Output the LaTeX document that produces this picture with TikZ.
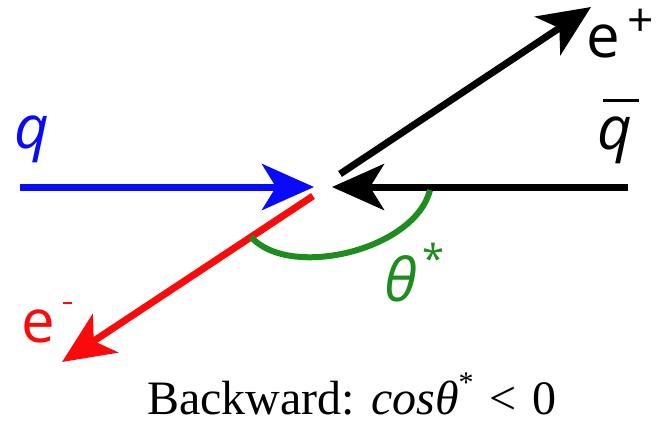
\documentclass[tikz,border=0pt]{standalone}
\usepackage{fontspec}
\setmainfont{Liberation Serif}
\newfontfamily\lblfont{Open Sans}
\usetikzlibrary{arrows.meta}
\definecolor{qblue}{RGB}{10,10,250}
\definecolor{ered}{RGB}{250,10,10}
\definecolor{tgreen}{RGB}{30,140,30}
\tikzset{
  vec/.style={line width=7pt, -{Stealth[length=52pt,width=46pt,inset=14pt]}},
  lbl/.style={inner sep=0pt, anchor=base west, font=\lblfont\fontsize{60}{60}\selectfont},
  sup/.style={inner sep=0pt, anchor=base west, font=\lblfont\fontsize{46}{46}\selectfont},
}
\begin{document}
\begin{tikzpicture}[x=1pt,y=-1pt]
\useasboundingbox (0,0) rectangle (663,426);
% endpoints
\coordinate (qs) at (20,187);
\coordinate (qt) at (314,187);
\coordinate (bs) at (628,187);
\coordinate (bt) at (332,187);
\coordinate (ps) at (340,174);
\coordinate (pt) at (591,7);
\coordinate (ms) at (313,196);
\coordinate (mt) at (62,362);
\coordinate (as) at (430,190);
\coordinate (ae) at (251,237);
% arrows
\draw[vec, qblue] (qs) -- (qt);
\draw[vec, black] (bs) -- (bt);
\draw[vec, black] (ps) -- (pt);
\draw[vec, ered] (ms) -- (mt);
\draw[tgreen, line width=6pt] (as) .. controls (415,250) and (290,280) .. (ae);
% labels
\node[lbl, text=qblue] (lq) at (14,148) {\itshape q};
\node[lbl, text=black] (lqb) at (597,149) {\itshape q};
\coordinate (bl) at (603,100);
\coordinate (br) at (639,100);
\draw[line width=3pt] (bl) -- (br);
\node[lbl, text=black] (lep) at (586,57) {e};
\node[sup, text=black] (lepp) at (627,36) {+};
\node[lbl, text=ered] (lem) at (21,342) {e};
\coordinate (mlft) at (63,303);
\coordinate (mrgt) at (72,303);
\draw[ered, line width=2.5pt] (mlft) -- (mrgt);
\node[lbl, text=tgreen] (lth) at (384,301) {\itshape θ};
\node[sup, text=tgreen, font=\lblfont\fontsize{40}{40}\selectfont] (lst) at (422,273) {*};
\node[inner sep=0pt, anchor=base, font=\fontsize{48}{48}\selectfont] (cap) at (352,414) {Backward: {\itshape cosθ}\raisebox{0.45em}{\fontsize{30}{30}\selectfont *}\,\,<\,\,0};
\end{tikzpicture}
\end{document}
